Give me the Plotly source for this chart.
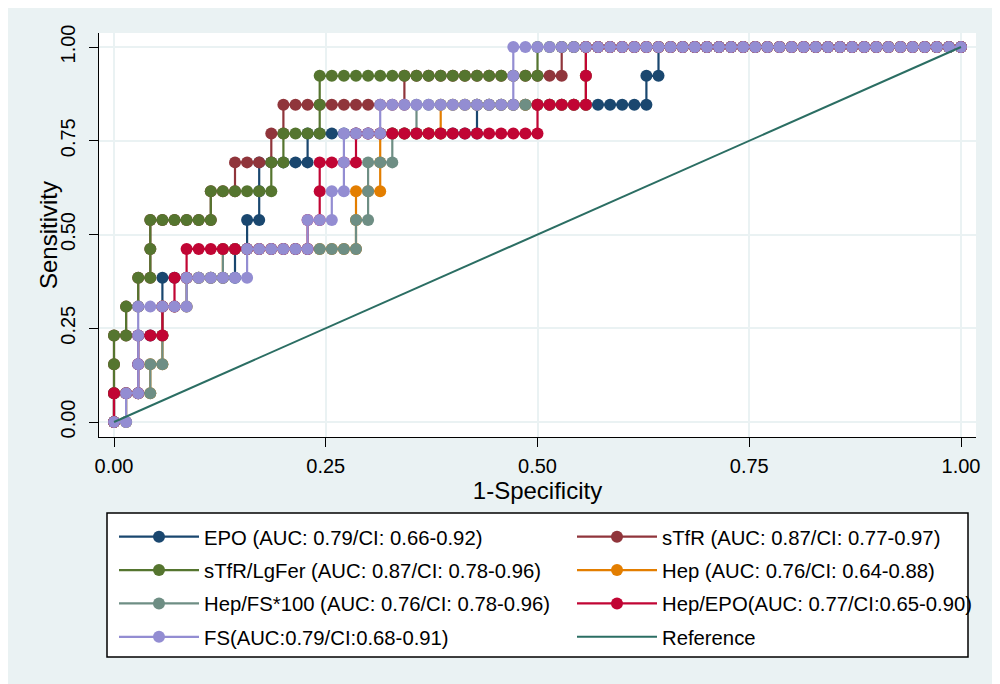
import plotly.graph_objects as go

# ---- data ------------------------------------------------------------
N_CONTROLS = 70   # 1-Specificity steps
N_CASES = 13      # Sensitivity steps

# number of false positives (controls) at which each of the 13 cases is reached
epo        = [0, 2, 2, 4, 4, 10, 11, 12, 12, 16, 30, 44, 45]
stfr       = [0, 0, 0, 1, 2, 3, 3, 8, 10, 13, 14, 24, 37]
stfr_lgfer = [0, 0, 0, 1, 2, 3, 3, 8, 13, 14, 17, 17, 35]
hep        = [1, 3, 4, 4, 6, 9, 20, 20, 22, 22, 27, 39, 39]
hep_fs     = [1, 3, 4, 4, 6, 9, 20, 21, 21, 23, 25, 39, 39]
hep_epo    = [0, 2, 2, 4, 5, 6, 16, 17, 17, 20, 35, 39, 39]
fs         = [1, 2, 2, 2, 6, 11, 16, 18, 19, 19, 22, 33, 33]

series = [epo, stfr, stfr_lgfer, hep, hep_fs, hep_epo, fs]
labels = [
    "EPO (AUC: 0.79/CI: 0.66-0.92)",
    "sTfR (AUC: 0.87/CI: 0.77-0.97)",
    "sTfR/LgFer (AUC: 0.87/CI: 0.78-0.96)",
    "Hep (AUC: 0.76/CI: 0.64-0.88)",
    "Hep/FS*100 (AUC: 0.76/CI: 0.78-0.96)",
    "Hep/EPO(AUC: 0.77/CI:0.65-0.90)",
    "FS(AUC:0.79/CI:0.68-0.91)",
]
colors = ["#1a476f", "#90353b", "#55752f", "#e37e00", "#6e8e84", "#c10534", "#938dd2"]
ref_label = "Reference"
ref_color = "#2b6e63"

tick_vals = [0, 0.25, 0.5, 0.75, 1]
tick_text = ["0.00", "0.25", "0.50", "0.75", "1.00"]
x_title = "1-Specificity"
y_title = "Sensitivity"


def roc_points(rises):
    """ROC operating points: one point per control / case step."""
    xs, ys = [0.0], [0.0]
    fp = tp = 0
    for r in rises:
        while fp < r:
            fp += 1
            xs.append(fp / N_CONTROLS)
            ys.append(tp / N_CASES)
        tp += 1
        xs.append(fp / N_CONTROLS)
        ys.append(tp / N_CASES)
    while fp < N_CONTROLS:
        fp += 1
        xs.append(fp / N_CONTROLS)
        ys.append(tp / N_CASES)
    return xs, ys


# ---- layout geometry (screen pixels; page body has an 8px margin) -----
OFF = 8
W, H = 1000, 684
SL, SR, ST, SB = 99, 976, 33, 437          # plot area on screen
L, R, T, B = SL - OFF, SR - OFF, ST - OFF, SB - OFF
PW, PH = R - L, B - T


def px(sx):
    return (sx - OFF - L) / PW


def py(sy):
    return (B - (sy - OFF)) / PH


FONT = "Liberation Sans, Arial, sans-serif"

fig = go.Figure()
for i, (s, name, c) in enumerate(zip(series, labels, colors)):
    xs, ys = roc_points(s)
    fig.add_trace(go.Scatter(
        x=xs, y=ys, mode="lines+markers", name=name,
        legend="legend" if i % 2 == 0 else "legend2",
        legendgroup=f"g{i}",
        line=dict(color=c, width=2.2),
        marker=dict(color=c, size=12, line=dict(width=0)),
    ))

fig.add_trace(go.Scatter(
    x=[0, 1], y=[0, 1], mode="lines", name=ref_label,
    legend="legend2", legendgroup="gref",
    line=dict(color=ref_color, width=2),
))

# data x=0 at screen 114, x=1 at 961; y=0 at 422, y=1 at 47
x_lo = -(114 - SL) / 847
x_hi = 1 + (SR - 961) / 847
y_lo = -(SB - 422) / 375
y_hi = 1 + (47 - ST) / 375

axis_common = dict(
    tickvals=tick_vals, ticktext=tick_text, automargin=False,
    showgrid=True, gridcolor="#eaf2f3", gridwidth=2,
    zeroline=False, showline=True, linecolor="black", linewidth=1,
    ticks="outside", ticklen=9, tickcolor="black", tickwidth=1,
    tickfont=dict(family=FONT, size=20, color="black"),
)

legend_common = dict(
    orientation="v", xanchor="left", yanchor="top",
    bgcolor="rgba(0,0,0,0)", borderwidth=0, itemwidth=80,
    tracegroupgap=4,
    font=dict(family=FONT, size=20.3, color="black"),
    traceorder="grouped", itemclick=False,
)

fig.update_layout(
    width=W, height=H, autosize=False,
    margin=dict(l=L, r=W - R, t=T, b=H - B, pad=0, autoexpand=False),
    paper_bgcolor="#eaf2f3", plot_bgcolor="white",
    xaxis=dict(range=[x_lo, x_hi], ticklabelstandoff=2,
               title=dict(text=x_title, standoff=0,
                          font=dict(family=FONT, size=24, color="black")),
               **axis_common),
    yaxis=dict(range=[y_lo, y_hi], tickangle=-90, ticklabelstandoff=6,
               **axis_common),
    showlegend=True,
    legend=dict(x=px(114), y=py(517), **legend_common),
    legend2=dict(x=px(572), y=py(517), **legend_common),
    annotations=[
        dict(text=y_title, xref="paper", yref="paper",
             x=px(48), y=py(235), xanchor="center", yanchor="middle",
             textangle=-90, showarrow=False,
             font=dict(family=FONT, size=24, color="black")),
    ],
    shapes=[
        # legend box
        dict(type="rect", xref="paper", yref="paper", layer="above",
             x0=px(107), x1=px(968), y0=py(657), y1=py(513),
             fillcolor="white", line=dict(color="black", width=1.5)),
    ],
)

fig.write_html("out.html")
